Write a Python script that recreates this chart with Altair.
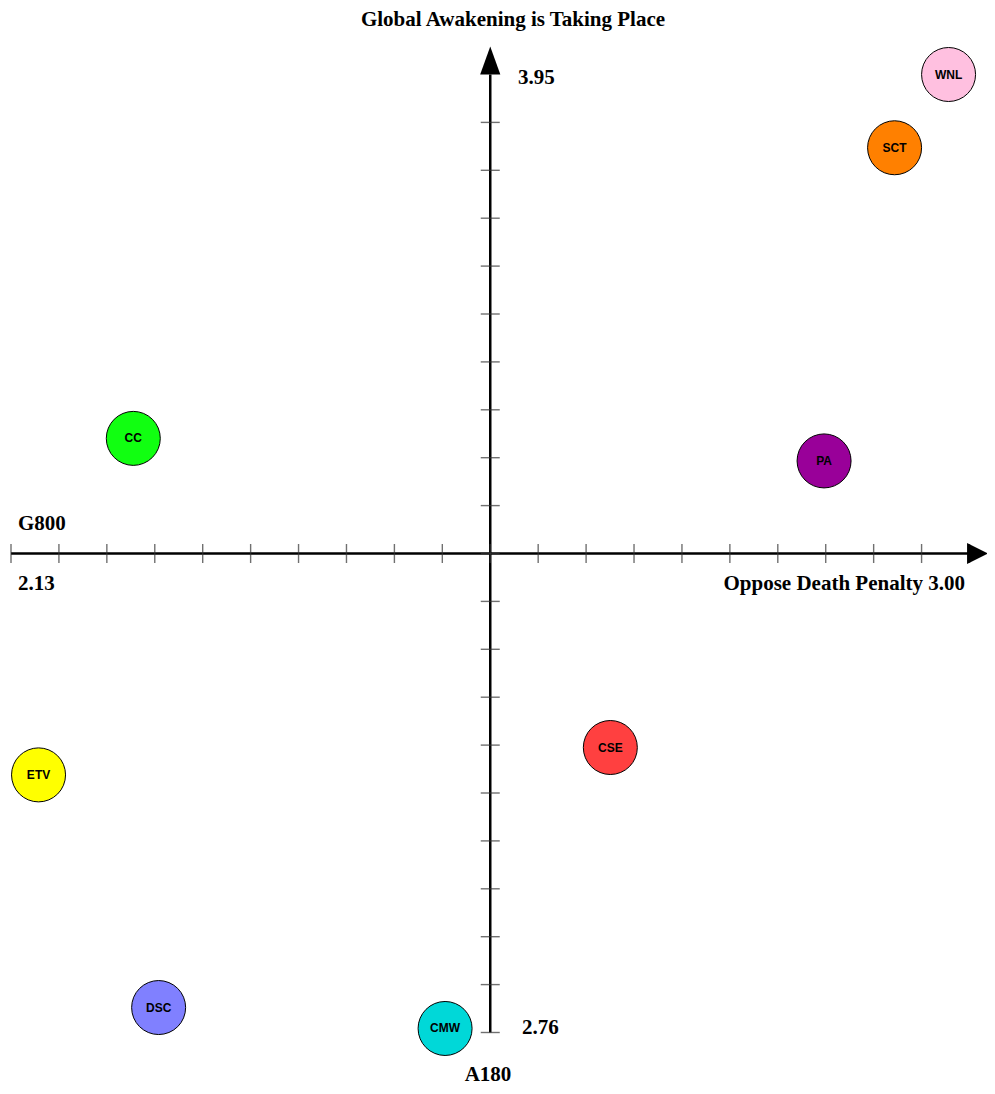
import altair as alt
import pandas as pd

labels = ["WNL", "SCT", "PA", "CC", "CSE", "ETV", "DSC", "CMW"]
x_vals = [2.981, 2.932, 2.868, 2.241, 2.674, 2.155, 2.264, 2.524]
y_vals = [3.950, 3.859, 3.470, 3.498, 3.114, 3.080, 2.791, 2.765]
colors = ["#FFC0E0", "#FF8000", "#990099", "#11FF11", "#FF4040", "#FFFF00", "#8080FF", "#00D8D8"]

x_min, x_max = 2.13, 3.00
y_min, y_max = 2.76, 3.95
x_mid = (x_min + x_max) / 2
y_mid = (y_min + y_max) / 2
n_ticks = 20

W, H = 979, 1078

pts = pd.DataFrame({"label": labels, "x": x_vals, "y": y_vals, "color": colors})

xs = alt.Scale(domain=[x_min, x_max], range=[3, 961.5], nice=False, zero=False)
ys = alt.Scale(domain=[y_min, y_max], range=[1024.5, 66.5], nice=False, zero=False)

xt = [x_min + i * (x_max - x_min) / n_ticks for i in range(n_ticks + 1)]
yt = [y_min + i * (y_max - y_min) / n_ticks for i in range(n_ticks)]

X = lambda: alt.X("x:Q", scale=xs, axis=None)
Y = lambda: alt.Y("y:Q", scale=ys, axis=None)

hline = alt.Chart(pd.DataFrame({"x": [x_min], "x2": [x_max + 0.002], "y": [y_mid]})).mark_rule(
    color="black", strokeWidth=2.5).encode(x=X(), x2="x2:Q", y=Y())
vline = alt.Chart(pd.DataFrame({"y": [y_min], "y2": [y_max], "x": [x_mid]})).mark_rule(
    color="black", strokeWidth=2.5).encode(y=Y(), y2="y2:Q", x=X())

xticks = alt.Chart(pd.DataFrame({"x": xt, "y": [y_mid] * len(xt)})).mark_tick(
    orient="vertical", size=19, thickness=1.4, color="#333333").encode(x=X(), y=Y())
yticks = alt.Chart(pd.DataFrame({"y": yt, "x": [x_mid] * len(yt)})).mark_tick(
    orient="horizontal", size=19, thickness=1.4, color="#333333").encode(x=X(), y=Y())

arrow_r = alt.Chart(pd.DataFrame({"x": [x_max + 0.0073], "y": [y_mid]})).mark_point(
    shape="M-1,-1L1,0L-1,1Z", size=441, filled=True, color="black", opacity=1).encode(x=X(), y=Y())
arrow_u = alt.Chart(pd.DataFrame({"x": [x_mid], "y": [y_max + 0.0175]})).mark_point(
    shape="M-0.72,1L0,-1L0.72,1Z", size=784, filled=True, color="black", opacity=1).encode(x=X(), y=Y())

base = alt.Chart(pts)
circles = base.mark_circle(size=2916, opacity=1, stroke="black", strokeWidth=1).encode(
    x=X(), y=Y(), color=alt.Color("color:N", scale=None))
circ_text = base.mark_text(font="Liberation Sans", fontWeight="bold", fontSize=12, color="black").encode(
    x=X(), y=Y(), text="label:N")

ann_text = ["Global Awakening is Taking Place", "G800", "2.13", "Oppose Death Penalty 3.00",
            "3.95", "2.76", "A180"]
ann_px = [505, 10, 10, 957, 510, 514, 480]
ann_py = [11.5, 516, 576, 576, 70, 1020, 1066.5]
ann_align = ["center", "left", "left", "right", "left", "left", "center"]

layers = []
for t, px, py, al in zip(ann_text, ann_px, ann_py, ann_align):
    layers.append(
        alt.Chart(pd.DataFrame({"t": [t]})).mark_text(
            font="Liberation Serif", fontWeight="bold", fontSize=21,
            align=al, baseline="middle", color="black").encode(
            x=alt.value(px), y=alt.value(py), text="t:N")
    )

chart = alt.layer(hline, vline, xticks, yticks, arrow_r, arrow_u, circles, circ_text, *layers).properties(
    width=W, height=H, autosize=alt.AutoSizeParams(type="none"), padding=0, background="white"
).configure_view(stroke=None)

chart.save("out.html", embed_options={"renderer": "svg", "actions": False})
